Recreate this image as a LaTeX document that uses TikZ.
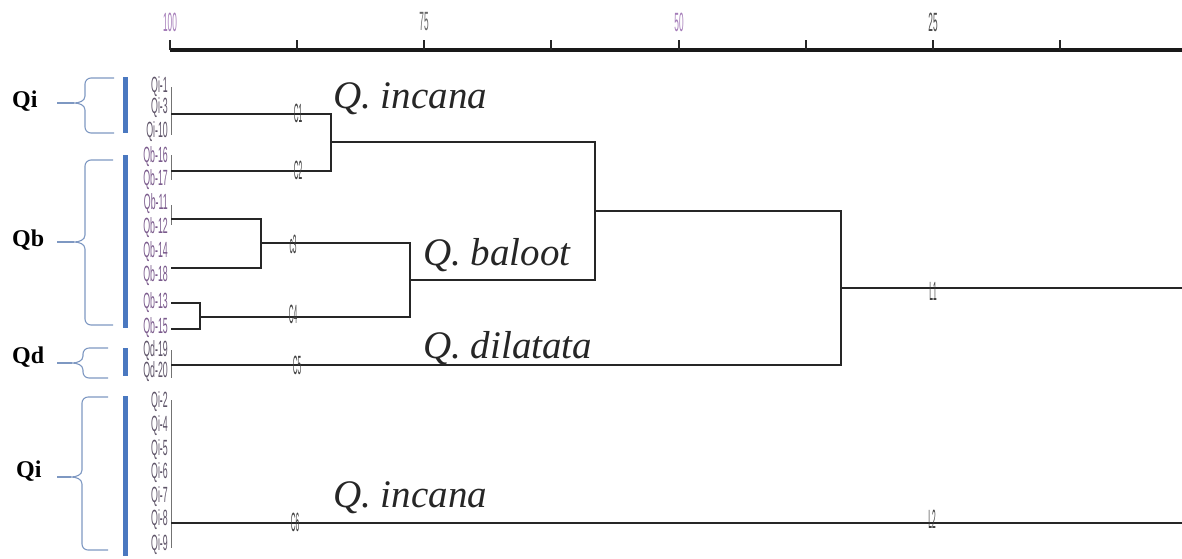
\documentclass[tikz,border=0pt]{standalone}
\usepackage{fontspec}
\usepackage{graphicx}
\setmainfont{Liberation Serif}
\setsansfont{Liberation Sans}
\definecolor{barblue}{HTML}{4A78C0}
\definecolor{braceblue}{HTML}{7E98C2}
\definecolor{leafcol}{HTML}{5E5468}
\definecolor{leafpurp}{HTML}{7A5A8C}
\definecolor{tickpurp}{HTML}{A47CB8}
\newcommand\leaftext[1]{\scalebox{0.8}[2.0]{#1}}
\newcommand\clabtext[1]{\scalebox{0.6}[2.4]{#1}}
\newcommand\ticktext[1]{\scalebox{0.75}[2.4]{#1}}
\newcommand\grpbrace[5]{%
  \draw[bracesty] (#5,#1) -- ({#4+6},#1) to[out=180,in=90] (#4,{#1+6}) -- (#4,{#2-7})
     to[out=-90,in=0] ({#4-11},#2) to[out=0,in=90] (#4,{#2+7}) -- (#4,{#3-6})
     to[out=-90,in=180] ({#4+6},#3) -- (#5,#3);
  \draw[bracesty] ({#4-11},#2) -- (57,#2);}
\tikzset{
  axisline/.style={line width=3.5pt, black!90},
  tickline/.style={line width=1.6pt, black!85},
  dend/.style={line width=2pt, black!85},
  leafline/.style={line width=0.9pt, black!55},
  species/.style={font=\fontsize{39}{42}\selectfont\itshape, inner sep=0pt, anchor=base west, black!85},
  grp/.style={font=\fontsize{24}{26}\selectfont\bfseries, anchor=west, inner sep=0pt},
  grpbar/.style={line width=5pt, barblue},
  bracesty/.style={line width=1.1pt, braceblue},
  leaf/.style={font=\fontsize{11}{12}\selectfont\sffamily, anchor=east, inner sep=0pt, leafcol},
  clab/.style={font=\fontsize{11}{12}\selectfont\sffamily, inner sep=0pt, black!75},
  ticklab/.style={font=\fontsize{11}{12}\selectfont\sffamily, inner sep=0pt}
}
\begin{document}
\begin{tikzpicture}[x=1pt,y=-1pt]
\useasboundingbox (0,0) rectangle (1182,558);
% axis
\coordinate (ax0) at (170,50);
\coordinate (ax1) at (1182,50);
\draw[axisline] (ax0) -- (ax1);
\foreach \t in {170,297,424,551,679,806,933,1060}
  \draw[tickline] (\t,50) -- (\t,40);
\node[ticklab, tickpurp] (t100) at (170,22) {\ticktext{100}};
\node[ticklab, black!60] (t75) at (424,22) {\ticktext{75}};
\node[ticklab, tickpurp] (t50) at (679,22) {\ticktext{50}};
\node[ticklab, black!70] (t25) at (933,22) {\ticktext{25}};
% leaf labels
\foreach \n/\y/\c in {Qi-1/87/leafcol, Qi-3/108/leafcol, Qi-10/132/leafcol,
  Qb-16/157/leafpurp, Qb-17/180/leafpurp, Qb-11/204/leafpurp, Qb-12/228/leafpurp,
  Qb-14/252/leafpurp, Qb-18/276/leafpurp, Qb-13/303/leafpurp, Qb-15/328/leafpurp,
  Qd-19/351/leafcol, Qd-20/372/leafcol, Qi-2/402/leafcol, Qi-4/426/leafcol,
  Qi-5/450/leafcol, Qi-6/473/leafcol, Qi-7/497/leafcol, Qi-8/520/leafcol, Qi-9/545/leafcol}
  \node[leaf, text=\c] (leaf\n) at (168,\y) {\leaftext{\n}};
% thin leaf verticals
\draw[leafline] (171,87) -- (171,135);
\draw[leafline] (171,155) -- (171,180);
\draw[leafline] (171,205) -- (171,225);
\draw[leafline] (171,350) -- (171,378);
\draw[leafline] (171,400) -- (171,548);
% dendrogram
\coordinate (l1) at (171,114);
\coordinate (l2) at (171,171);
\coordinate (l3a) at (171,219);
\coordinate (l3b) at (171,268);
\coordinate (l4a) at (171,303);
\coordinate (l4b) at (171,329);
\coordinate (l5) at (171,365);
\coordinate (l6) at (171,523);
\coordinate (n12) at (331,142);
\coordinate (n3) at (261,243);
\coordinate (n4) at (200,317);
\coordinate (n34) at (410,280);
\coordinate (nA) at (595,211);
\coordinate (nB) at (841,288);
\coordinate (r1) at (1182,288);
\coordinate (r2) at (1182,523);
\draw[dend] (l1) -| (n12) |- (l2);
\draw[dend] (l3a) -| (n3) |- (l3b);
\draw[dend] (l4a) -| (n4) |- (l4b);
\draw[dend] (n3) -| (n34) |- (n4);
\draw[dend] (n12) -| (nA) |- (n34);
\draw[dend] (nA) -| (nB) |- (l5);
\draw[dend] (nB) -- (r1);
\draw[dend] (l6) -- (r2);
% cluster labels
\node[clab] (C1) at (298,113) {\clabtext{C1}};
\node[clab] (C2) at (298,170) {\clabtext{C2}};
\node[clab] (C3) at (293,244) {\clabtext{c3}};
\node[clab] (C4) at (293,314) {\clabtext{C4}};
\node[clab] (C5) at (297,365) {\clabtext{C5}};
\node[clab] (C6) at (295,522) {\clabtext{C6}};
\node[clab] (L1) at (933,291) {\clabtext{L1}};
\node[clab] (L2) at (932,519) {\clabtext{L2}};
% species names
\node[species] (sp1) at (333,108) {Q. incana};
\node[species] (sp2) at (423,265) {Q. baloot};
\node[species] (sp3) at (423,358) {Q. dilatata};
\node[species] (sp4) at (333,507) {Q. incana};
% group bars
\draw[grpbar] (125,77) -- (125,133);
\draw[grpbar] (125,155) -- (125,328);
\draw[grpbar] (125,348) -- (125,376);
\draw[grpbar] (125,396) -- (125,556);
% braces
\grpbrace{78}{103}{133}{85}{114}
\grpbrace{160}{242}{325}{85}{113}
\grpbrace{348}{363}{378}{83}{108}
\grpbrace{397}{477}{550}{82}{108}
% group labels
\node[grp] (gQi1) at (12,101) {Qi};
\node[grp] (gQb) at (12,240) {Qb};
\node[grp] (gQd) at (12,357) {Qd};
\node[grp] (gQi2) at (16,471) {Qi};
\end{tikzpicture}
\end{document}
